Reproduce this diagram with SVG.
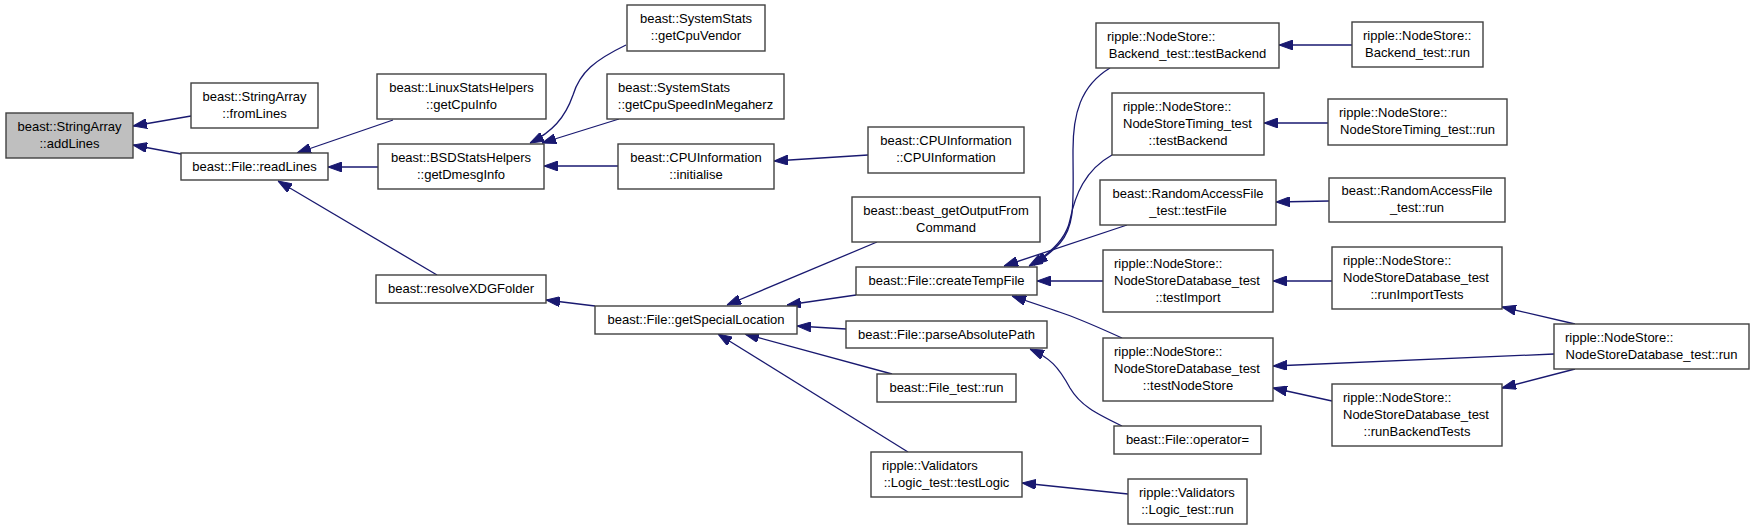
<svg xmlns="http://www.w3.org/2000/svg" width="1755" height="529" viewBox="0 0 1755 529">
<style>
.n rect{fill:#ffffff;stroke:#404040;stroke-width:1.4}
.n.h rect{fill:#bfbfbf}
.n text{font-family:"Liberation Sans",Arial,Helvetica,sans-serif;font-size:13px;fill:#000}
.c{text-anchor:middle}
.e path{fill:none;stroke:#191970;stroke-width:1.3;marker-end:url(#ah)}
</style>
<defs>
<marker id="ah" viewBox="0 0 14 10" refX="14" refY="5" markerWidth="14" markerHeight="10" markerUnits="userSpaceOnUse" orient="auto">
<path d="M0,0 L14,5 L0,10 z" fill="#191970" stroke="#191970" stroke-width="1"/>
</marker>
</defs>
<rect width="1755" height="529" fill="#ffffff"/>
<g id="edges" class="e">
<path d="M191,116 L133,126"/>
<path d="M181,154 L133,145"/>
<path d="M393,120 L297,153"/>
<path d="M378,167 L328,167"/>
<path d="M437,275 L278,181"/>
<path d="M626,45 C595,60 580,72 573,95 C565,118 552,132 530,143"/>
<path d="M619,119 L542,143"/>
<path d="M618,166 L544,166"/>
<path d="M868,155 L774,161"/>
<path d="M595,306 L546,300"/>
<path d="M877,242 L727,305"/>
<path d="M856,295 L787,305"/>
<path d="M846,329 L797,326"/>
<path d="M892,374 L745,334"/>
<path d="M908,452 L718,334"/>
<path d="M1110,68 C1080,86 1073,115 1073,150 C1073,200 1076,225 1060,243 C1052,252 1043,258 1034,265"/>
<path d="M1112,155 C1085,170 1075,195 1070,220 C1066,240 1050,254 1029,266"/>
<path d="M1127,225 L1004,266"/>
<path d="M1103,281 L1037,281"/>
<path d="M1122,338 C1100,328 1082,320 1065,314 C1048,308 1030,302 1012,296"/>
<path d="M1122,426 C1095,413 1080,405 1070,388 C1058,366 1050,358 1030,349"/>
<path d="M1128,494 L1022,483"/>
<path d="M1352,45 L1279,45"/>
<path d="M1328,123 L1264,123"/>
<path d="M1329,201 L1276,202"/>
<path d="M1332,281 L1273,281"/>
<path d="M1554,354 L1273,366"/>
<path d="M1332,401 L1273,388"/>
<path d="M1575,324 L1502,307"/>
<path d="M1575,369 L1502,388"/>
</g>
<g id="addLines" class="n h"><rect x="6" y="113" width="127" height="45"/><text class="c" x="69.5" y="130.5">beast::StringArray</text><text class="c" x="69.5" y="147.5">::addLines</text></g>
<g id="fromLines" class="n"><rect x="191" y="83" width="127" height="45"/><text class="c" x="254.5" y="100.5">beast::StringArray</text><text class="c" x="254.5" y="117.5">::fromLines</text></g>
<g id="readLines" class="n"><rect x="181" y="153" width="147" height="27"/><text class="c" x="254.5" y="170.5">beast::File::readLines</text></g>
<g id="getCpuInfo" class="n"><rect x="377" y="74" width="169" height="45"/><text class="c" x="461.5" y="91.5">beast::LinuxStatsHelpers</text><text class="c" x="461.5" y="108.5">::getCpuInfo</text></g>
<g id="getDmesgInfo" class="n"><rect x="378" y="144" width="166" height="45"/><text class="c" x="461" y="161.5">beast::BSDStatsHelpers</text><text class="c" x="461" y="178.5">::getDmesgInfo</text></g>
<g id="getCpuVendor" class="n"><rect x="627" y="5" width="138" height="46"/><text class="c" x="696" y="23">beast::SystemStats</text><text class="c" x="696" y="40">::getCpuVendor</text></g>
<g id="getCpuSpeed" class="n"><rect x="607" y="74" width="177" height="45"/><text x="618" y="91.5">beast::SystemStats</text><text class="c" x="695.5" y="108.5">::getCpuSpeedInMegaherz</text></g>
<g id="initialise" class="n"><rect x="618" y="144" width="156" height="45"/><text class="c" x="696" y="161.5">beast::CPUInformation</text><text class="c" x="696" y="178.5">::initialise</text></g>
<g id="CPUInformation" class="n"><rect x="868" y="127" width="156" height="46"/><text class="c" x="946" y="145">beast::CPUInformation</text><text class="c" x="946" y="162">::CPUInformation</text></g>
<g id="resolveXDGFolder" class="n"><rect x="376" y="275" width="170" height="28"/><text class="c" x="461" y="293">beast::resolveXDGFolder</text></g>
<g id="getSpecialLocation" class="n"><rect x="595" y="306" width="202" height="28"/><text class="c" x="696" y="324">beast::File::getSpecialLocation</text></g>
<g id="getOutputFromCommand" class="n"><rect x="852" y="197" width="188" height="45"/><text class="c" x="946" y="214.5">beast::beast_getOutputFrom</text><text class="c" x="946" y="231.5">Command</text></g>
<g id="createTempFile" class="n"><rect x="856" y="267" width="181" height="28"/><text class="c" x="946.5" y="285">beast::File::createTempFile</text></g>
<g id="parseAbsolutePath" class="n"><rect x="846" y="321" width="201" height="27"/><text class="c" x="946.5" y="338.5">beast::File::parseAbsolutePath</text></g>
<g id="FileTestRun" class="n"><rect x="877" y="374" width="139" height="28"/><text class="c" x="946.5" y="392">beast::File_test::run</text></g>
<g id="testLogic" class="n"><rect x="871" y="452" width="151" height="45"/><text x="882" y="469.5">ripple::Validators</text><text class="c" x="946.5" y="486.5">::Logic_test::testLogic</text></g>
<g id="BackendTestTestBackend" class="n"><rect x="1096" y="23" width="183" height="45"/><text x="1107" y="40.5">ripple::NodeStore::</text><text class="c" x="1187.5" y="57.5">Backend_test::testBackend</text></g>
<g id="TimingTestBackend" class="n"><rect x="1112" y="93" width="152" height="62"/><text x="1123" y="111">ripple::NodeStore::</text><text x="1123" y="128">NodeStoreTiming_test</text><text class="c" x="1188" y="145">::testBackend</text></g>
<g id="testFile" class="n"><rect x="1100" y="180" width="176" height="45"/><text class="c" x="1188" y="197.5">beast::RandomAccessFile</text><text class="c" x="1188" y="214.5">_test::testFile</text></g>
<g id="testImport" class="n"><rect x="1103" y="250" width="170" height="62"/><text x="1114" y="268">ripple::NodeStore::</text><text x="1114" y="285">NodeStoreDatabase_test</text><text class="c" x="1188" y="302">::testImport</text></g>
<g id="testNodeStore" class="n"><rect x="1103" y="338" width="170" height="63"/><text x="1114" y="356">ripple::NodeStore::</text><text x="1114" y="373">NodeStoreDatabase_test</text><text class="c" x="1188" y="390">::testNodeStore</text></g>
<g id="operatorAssign" class="n"><rect x="1114" y="426" width="147" height="28"/><text class="c" x="1187.5" y="444">beast::File::operator=</text></g>
<g id="LogicTestRun" class="n"><rect x="1128" y="479" width="119" height="45"/><text x="1139" y="496.5">ripple::Validators</text><text class="c" x="1187.5" y="513.5">::Logic_test::run</text></g>
<g id="BackendTestRun" class="n"><rect x="1352" y="22" width="131" height="45"/><text x="1363" y="39.5">ripple::NodeStore::</text><text class="c" x="1417.5" y="56.5">Backend_test::run</text></g>
<g id="TimingTestRun" class="n"><rect x="1328" y="99" width="179" height="46"/><text x="1339" y="117">ripple::NodeStore::</text><text class="c" x="1417.5" y="134">NodeStoreTiming_test::run</text></g>
<g id="RAFTestRun" class="n"><rect x="1329" y="178" width="176" height="44"/><text class="c" x="1417" y="195">beast::RandomAccessFile</text><text class="c" x="1417" y="212">_test::run</text></g>
<g id="runImportTests" class="n"><rect x="1332" y="247" width="170" height="62"/><text x="1343" y="265">ripple::NodeStore::</text><text x="1343" y="282">NodeStoreDatabase_test</text><text class="c" x="1417" y="299">::runImportTests</text></g>
<g id="NSDTestRun" class="n"><rect x="1554" y="324" width="195" height="45"/><text x="1565" y="341.5">ripple::NodeStore::</text><text class="c" x="1651.5" y="358.5">NodeStoreDatabase_test::run</text></g>
<g id="runBackendTests" class="n"><rect x="1332" y="384" width="170" height="62"/><text x="1343" y="402">ripple::NodeStore::</text><text x="1343" y="419">NodeStoreDatabase_test</text><text class="c" x="1417" y="436">::runBackendTests</text></g>
</svg>
